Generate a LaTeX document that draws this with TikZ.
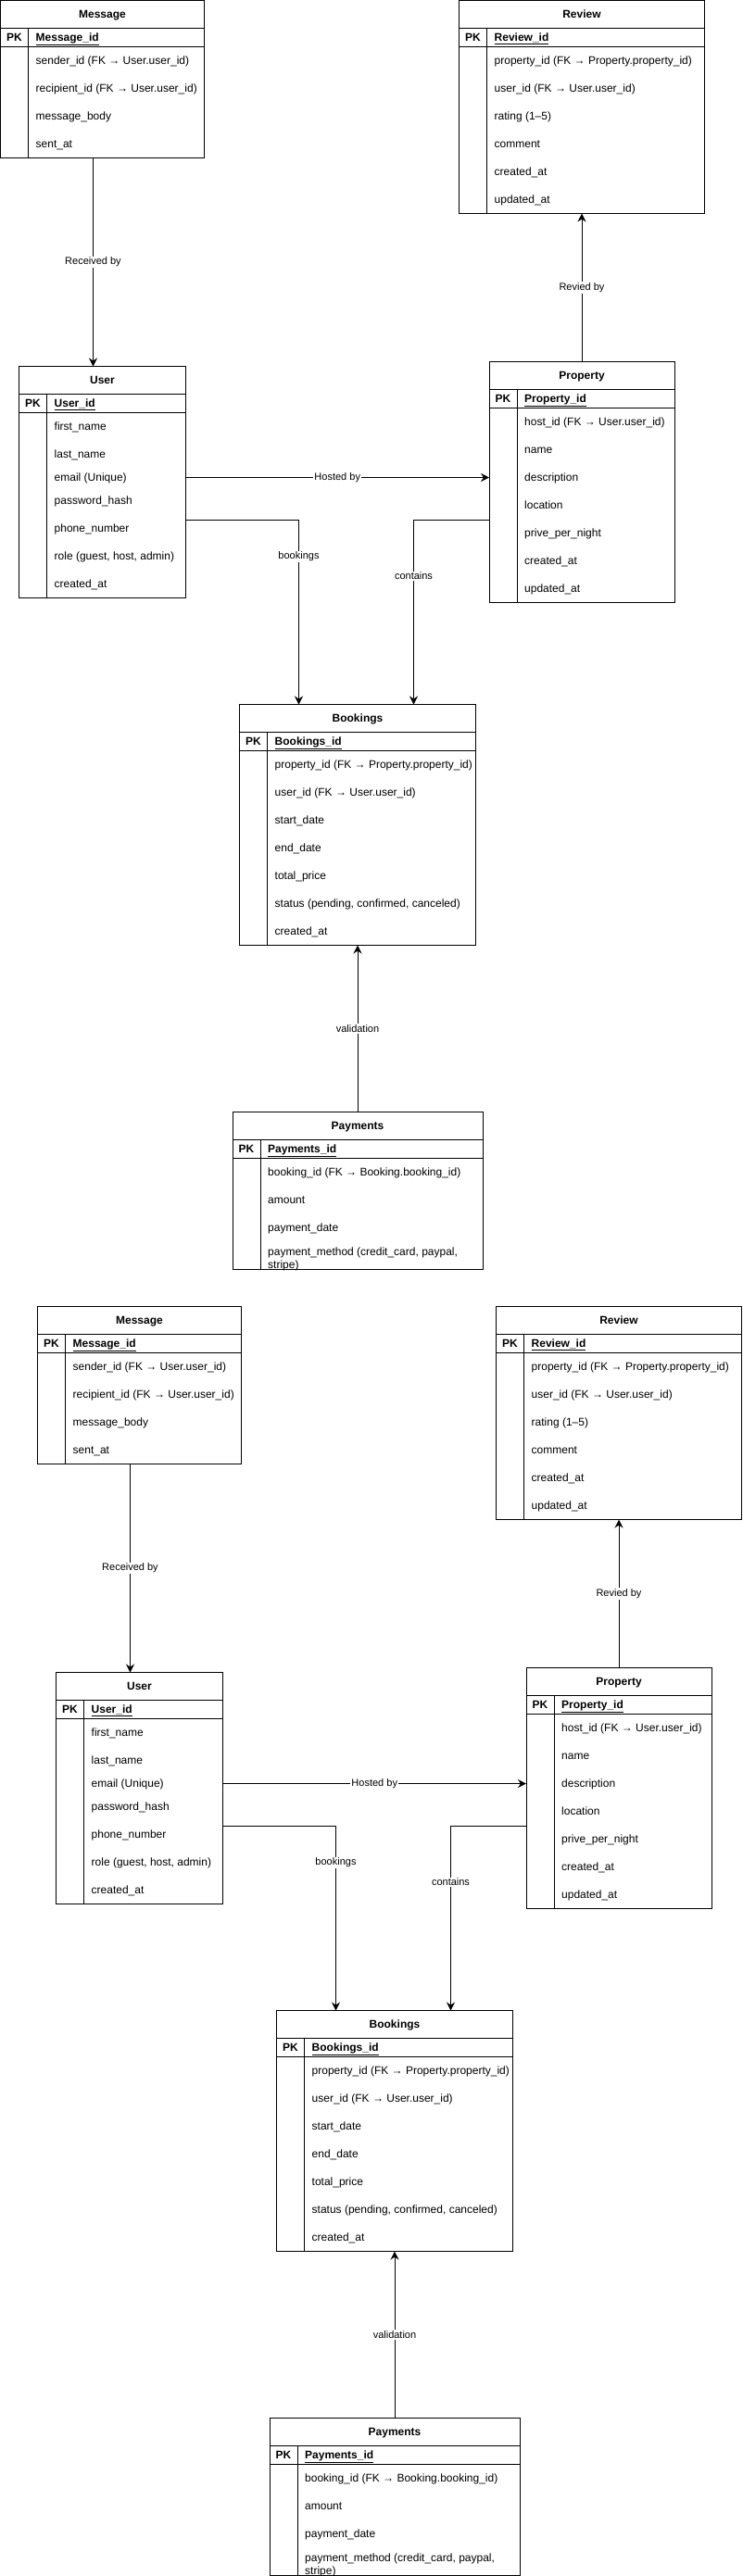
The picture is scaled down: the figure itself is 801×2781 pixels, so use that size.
\documentclass[tikz,border=0pt]{standalone}
\usepackage{fontspec}
\setmainfont{Liberation Sans}
\usetikzlibrary{arrows.meta}
\tikzset{
  x=1pt, y=-1pt,
  tbl/.style={draw, line width=1pt, inner sep=0pt, outer sep=0pt, fill=white},
  tline/.style={line width=1pt},
  ttl/.style={font=\fontsize{12}{14}\selectfont\bfseries, inner sep=0pt, text height=10pt, text depth=2pt},
  fld/.style={font=\fontsize{12}{14}\selectfont, inner sep=0pt, anchor=west, text height=10pt, text depth=2pt},
  pkn/.style={font=\fontsize{12}{14}\selectfont\bfseries, inner sep=0pt, anchor=west, text height=10pt, text depth=2pt},
  fld2/.style={font=\fontsize{12}{14}\selectfont, inner sep=0pt, anchor=west, align=left},
  lbl/.style={font=\fontsize{11}{13}\selectfont, fill=white, inner sep=1pt},
  arr/.style={line width=1pt, -{Stealth[length=9pt,width=9pt,inset=3pt]}},
}
% #1 name, #2 x, #3 y, #4 width, #5 height, #6 title, #7 primary key
\newcommand\ertable[7]{%
  \node[tbl, minimum width=#4pt, minimum height=#5pt, anchor=north west] (#1) at (#2,#3) {};
  \draw[tline] ([yshift=-30pt]#1.north west) -- ([yshift=-30pt]#1.north east);
  \draw[tline] ([yshift=-50pt]#1.north west) -- ([yshift=-50pt]#1.north east);
  \draw[tline] ([xshift=30pt,yshift=-30pt]#1.north west) -- ([xshift=30pt]#1.south west);
  \node[ttl] (#1-title) at ([yshift=-15pt]#1.north) {#6};
  \node[ttl] (#1-pk) at ([xshift=15pt,yshift=-40pt]#1.north west) {PK};
  \node[pkn] (#1-pkname) at ([xshift=38pt,yshift=-40pt]#1.north west) {\underline{#7}};
}
% #1 table, #2 field id, #3 offset from top, #4 text
\newcommand\erfield[4]{%
  \node[fld] (#1-#2) at ([xshift=38pt,yshift=-#3pt]#1.north west) {#4};
}
\newcommand\erdiagram{%
  \ertable{msg}{0.5}{0.5}{220}{170}{Message}{Message\_id}
  \erfield{msg}{f1}{65}{sender\_id (FK → User.user\_id)}
  \erfield{msg}{f2}{95}{recipient\_id (FK → User.user\_id)}
  \erfield{msg}{f3}{125}{message\_body}
  \erfield{msg}{f4}{155}{sent\_at}
  %
  \ertable{rev}{495.5}{0.5}{265}{230}{Review}{Review\_id}
  \erfield{rev}{f1}{65}{property\_id (FK → Property.property\_id)}
  \erfield{rev}{f2}{95}{user\_id (FK → User.user\_id)}
  \erfield{rev}{f3}{125}{rating (1–5)}
  \erfield{rev}{f4}{155}{comment}
  \erfield{rev}{f5}{185}{created\_at}
  \erfield{rev}{f6}{215}{updated\_at}
  %
  \ertable{user}{20.5}{395.5}{180}{250}{User}{User\_id}
  \erfield{user}{f1}{65}{first\_name}
  \erfield{user}{f2}{95}{last\_name}
  \erfield{user}{f3}{120}{email (Unique)}
  \erfield{user}{f4}{145}{password\_hash}
  \erfield{user}{f5}{175}{phone\_number}
  \erfield{user}{f6}{205}{role (guest, host, admin)}
  \erfield{user}{f7}{235}{created\_at}
  %
  \ertable{prop}{528}{390.5}{200}{260}{Property}{Property\_id}
  \erfield{prop}{f1}{65}{host\_id (FK → User.user\_id)}
  \erfield{prop}{f2}{95}{name}
  \erfield{prop}{f3}{125}{description}
  \erfield{prop}{f4}{155}{location}
  \erfield{prop}{f5}{185}{prive\_per\_night}
  \erfield{prop}{f6}{215}{created\_at}
  \erfield{prop}{f7}{245}{updated\_at}
  %
  \ertable{book}{258.5}{760.5}{255}{260}{Bookings}{Bookings\_id}
  \erfield{book}{f1}{65}{property\_id (FK → Property.property\_id)}
  \erfield{book}{f2}{95}{user\_id (FK → User.user\_id)}
  \erfield{book}{f3}{125}{start\_date}
  \erfield{book}{f4}{155}{end\_date}
  \erfield{book}{f5}{185}{total\_price}
  \erfield{book}{f6}{215}{status (pending, confirmed, canceled)}
  \erfield{book}{f7}{245}{created\_at}
  %
  \ertable{pay}{251}{1200.5}{270}{170}{Payments}{Payments\_id}
  \erfield{pay}{f1}{65}{booking\_id (FK → Booking.booking\_id)}
  \erfield{pay}{f2}{95}{amount}
  \erfield{pay}{f3}{125}{payment\_date}
  \node[fld2] (pay-f4) at ([xshift=38pt,yshift=-158.5pt]pay.north west) {payment\_method (credit\_card, paypal,\\stripe)};
  %
  \draw[arr] ([xshift=100pt]msg.south west) -- node[lbl] (e-recv) {Received by} ([xshift=80pt]user.north west);
  \draw[arr] (prop.north) -- node[lbl] (e-rev) {Revied by} (rev.south);
  \draw[arr] ([yshift=-120pt]user.north east) -- node[lbl] (e-host) {Hosted by} ([yshift=-125pt]prop.north west);
  \draw[arr] ([yshift=-165.5pt]user.north east) -| node[lbl, pos=0.6] (e-book) {bookings} ([xshift=64pt]book.north west);
  \draw[arr] ([yshift=-170.5pt]prop.north west) -| node[lbl, pos=0.652] (e-cont) {contains} ([xshift=188pt]book.north west);
  \draw[arr] (pay.north) -- node[lbl] (e-val) {validation} (book.south);
}
\begin{document}
\begin{tikzpicture}
  \useasboundingbox (0,0) rectangle (801,2781);
  \begin{scope}[name prefix=a-]
    \erdiagram
  \end{scope}
  \begin{scope}[shift={(40,1410)}, name prefix=b-]
    \erdiagram
  \end{scope}
\end{tikzpicture}
\end{document}
